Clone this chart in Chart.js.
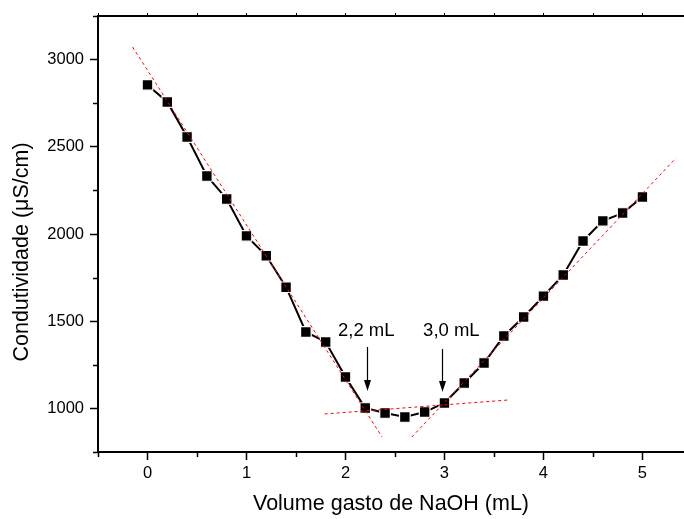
<!DOCTYPE html>
<html>
<head>
<meta charset="utf-8">
<script src="https://cdn.jsdelivr.net/npm/chart.js@4.4.1/dist/chart.umd.min.js"></script>
<style>
  html, body { margin: 0; padding: 0; background: #fff; }
  #wrap { width: 684px; height: 519px; }
</style>
</head>
<body>
<div id="wrap"><canvas id="condChart" width="684" height="519"></canvas></div>
<script>
// volume de NaOH (mL) e condutividade medida (uS/cm)
const volume = [0, 0.2, 0.4, 0.6, 0.8, 1.0, 1.2, 1.4, 1.6, 1.8, 2.0, 2.2, 2.4,
                2.6, 2.8, 3.0, 3.2, 3.4, 3.6, 3.8, 4.0, 4.2, 4.4, 4.6, 4.8, 5.0];
const condutividade = [2855, 2757, 2556, 2333, 2201, 1989, 1875, 1695, 1438, 1381, 1180, 1002, 974,
                       951, 979, 1031, 1146, 1260, 1415, 1524, 1644, 1765, 1960, 2075, 2120, 2212];

// retas de ajuste (tracejado vermelho)
const fitDescX = [-0.15, 2.37];
const fitDescY = [3072, 836];
const fitMidX = [1.79, 3.64];
const fitMidY = [968, 1048];
const fitAscX = [2.67, 5.34];
const fitAscY = [836, 2436];

// setas e textos dos pontos de equivalencia
const arrowX = [2.22, 2.98];
const arrowTop = [1352, 1341];
const arrowTip = [1100, 1094];
const arrowText = ['2,2 mL', '3,0 mL'];
const textX = [2.21, 3.07];
const textY = [1415, 1415];

// ticks
const xTickVals = [-0.5, 0, 0.5, 1, 1.5, 2, 2.5, 3, 3.5, 4, 4.5, 5];
const xTickLabels = {0: '0', 1: '1', 2: '2', 3: '3', 4: '4', 5: '5'};
const yTickVals = [750, 1000, 1250, 1500, 1750, 2000, 2250, 2500, 2750, 3000, 3250];
const yTickLabels = {1000: '1000', 1500: '1500', 2000: '2000', 2500: '2500', 3000: '3000'};

const yTitle = 'Condutividade (μS/cm)';
const FONT = "'Liberation Sans', Arial, sans-serif";

function pairs(xs, ys) {
    return xs.map((x, i) => ({x: x, y: ys[i]}));
}

function fitLine(xs, ys) {
    return {
        data: pairs(xs, ys),
        borderColor: '#ff0000',
        borderWidth: 1,
        borderDash: [3, 3],
        pointRadius: 0,
        fill: false
    };
}

// minor ticks, top frame line, arrows and labels
const extras = {
    id: 'extras',
    afterDraw(chart) {
        const ctx = chart.ctx;
        const xs = chart.scales.x;
        const ys = chart.scales.y;
        const area = chart.chartArea;
        ctx.save();
        ctx.strokeStyle = '#000';

        // minor ticks
        ctx.lineWidth = 1.5;
        xTickVals.forEach(v => {
            if (xTickLabels[v] !== undefined) return;
            const px = Math.round(xs.getPixelForValue(v)) + 0.5;
            ctx.beginPath();
            ctx.moveTo(px, area.bottom);
            ctx.lineTo(px, area.bottom + 5);
            ctx.stroke();
        });
        yTickVals.forEach(v => {
            if (yTickLabels[v] !== undefined) return;
            const py = Math.round(ys.getPixelForValue(v)) + 0.5;
            ctx.beginPath();
            ctx.moveTo(area.left, py);
            ctx.lineTo(area.left - 5, py);
            ctx.stroke();
        });

        // top frame
        ctx.lineWidth = 2;
        ctx.beginPath();
        ctx.moveTo(area.left - 1, area.top);
        ctx.lineTo(area.right, area.top);
        ctx.stroke();
        ctx.lineWidth = 1;
        xTickVals.forEach(v => {
            const px = Math.round(xs.getPixelForValue(v)) + 0.5;
            ctx.beginPath();
            ctx.moveTo(px, area.top);
            ctx.lineTo(px, area.top - 3);
            ctx.stroke();
        });

        // arrows
        ctx.fillStyle = '#000';
        arrowX.forEach((v, i) => {
            const px = Math.round(xs.getPixelForValue(v)) + 0.5;
            const y0 = ys.getPixelForValue(arrowTop[i]);
            const y1 = ys.getPixelForValue(arrowTip[i]);
            ctx.lineWidth = 1.2;
            ctx.beginPath();
            ctx.moveTo(px, y0);
            ctx.lineTo(px, y1 - 8);
            ctx.stroke();
            ctx.beginPath();
            ctx.moveTo(px, y1);
            ctx.lineTo(px - 3.5, y1 - 11);
            ctx.lineTo(px + 3.5, y1 - 11);
            ctx.closePath();
            ctx.fill();
        });

        // labels
        ctx.font = '18.5px ' + FONT;
        ctx.textAlign = 'center';
        ctx.textBaseline = 'alphabetic';
        arrowText.forEach((t, i) => {
            ctx.fillText(t, xs.getPixelForValue(textX[i]), ys.getPixelForValue(textY[i]));
        });

        // y axis title (sits a bit below the axis centre in the original)
        ctx.save();
        ctx.translate(22, 252);
        ctx.rotate(-Math.PI / 2);
        ctx.font = '21.5px ' + FONT;
        ctx.textBaseline = 'middle';
        ctx.fillText(yTitle, 0, 0);
        ctx.restore();
        ctx.restore();
    }
};

const ctx = document.getElementById('condChart').getContext('2d');
const chart = new Chart(ctx, {
    type: 'line',
    data: {
        datasets: [
            fitLine(fitDescX, fitDescY),
            fitLine(fitMidX, fitMidY),
            fitLine(fitAscX, fitAscY),
            {
                data: pairs(volume, condutividade),
                borderColor: '#000',
                borderWidth: 2,
                pointStyle: 'rect',
                pointRadius: 7.5,
                pointBackgroundColor: '#000',
                pointBorderColor: '#fff',
                pointBorderWidth: 1.2,
                tension: 0,
                fill: false
            }
        ]
    },
    options: {
        responsive: false,
        devicePixelRatio: 1,
        animation: false,
        layout: { autoPadding: false, padding: { top: 16, right: 0, left: 0, bottom: 0 } },
        plugins: {
            legend: { display: false },
            tooltip: { enabled: false }
        },
        scales: {
            x: {
                type: 'linear',
                min: -0.5,
                max: 5.42,
                afterBuildTicks: s => { s.ticks = xTickVals.map(v => ({value: v})); },
                afterFit: s => { s.height = 67; s.paddingLeft = 0; s.paddingRight = 0; },
                grid: {
                    drawOnChartArea: false,
                    tickLength: 8,
                    tickWidth: 1.5,
                    tickColor: c => (c.tick && xTickLabels[c.tick.value] !== undefined) ? '#000' : 'rgba(0,0,0,0)'
                },
                border: { display: true, color: '#000', width: 2 },
                ticks: {
                    autoSkip: false,
                    maxRotation: 0,
                    padding: 4,
                    color: '#000',
                    font: { family: FONT, size: 16.5 },
                    callback: v => xTickLabels[v] !== undefined ? xTickLabels[v] : ''
                },
                title: {
                    display: true,
                    text: 'Volume gasto de NaOH (mL)',
                    color: '#000',
                    font: { family: FONT, size: 21.5 },
                    padding: { top: 0, bottom: 2 }
                }
            },
            y: {
                type: 'linear',
                min: 750,
                max: 3250,
                afterBuildTicks: s => { s.ticks = yTickVals.map(v => ({value: v})); },
                afterFit: s => { s.width = 98; s.paddingTop = 0; s.paddingBottom = 0; },
                grid: {
                    drawOnChartArea: false,
                    tickLength: 8,
                    tickWidth: 1.5,
                    tickColor: c => (c.tick && yTickLabels[c.tick.value] !== undefined) ? '#000' : 'rgba(0,0,0,0)'
                },
                border: { display: true, color: '#000', width: 2 },
                ticks: {
                    autoSkip: false,
                    padding: 6,
                    color: '#000',
                    font: { family: FONT, size: 16.5 },
                    callback: v => yTickLabels[v] !== undefined ? yTickLabels[v] : ''
                },
                title: { display: false }
            }
        }
    },
    plugins: [extras]
});
</script>
</body>
</html>
